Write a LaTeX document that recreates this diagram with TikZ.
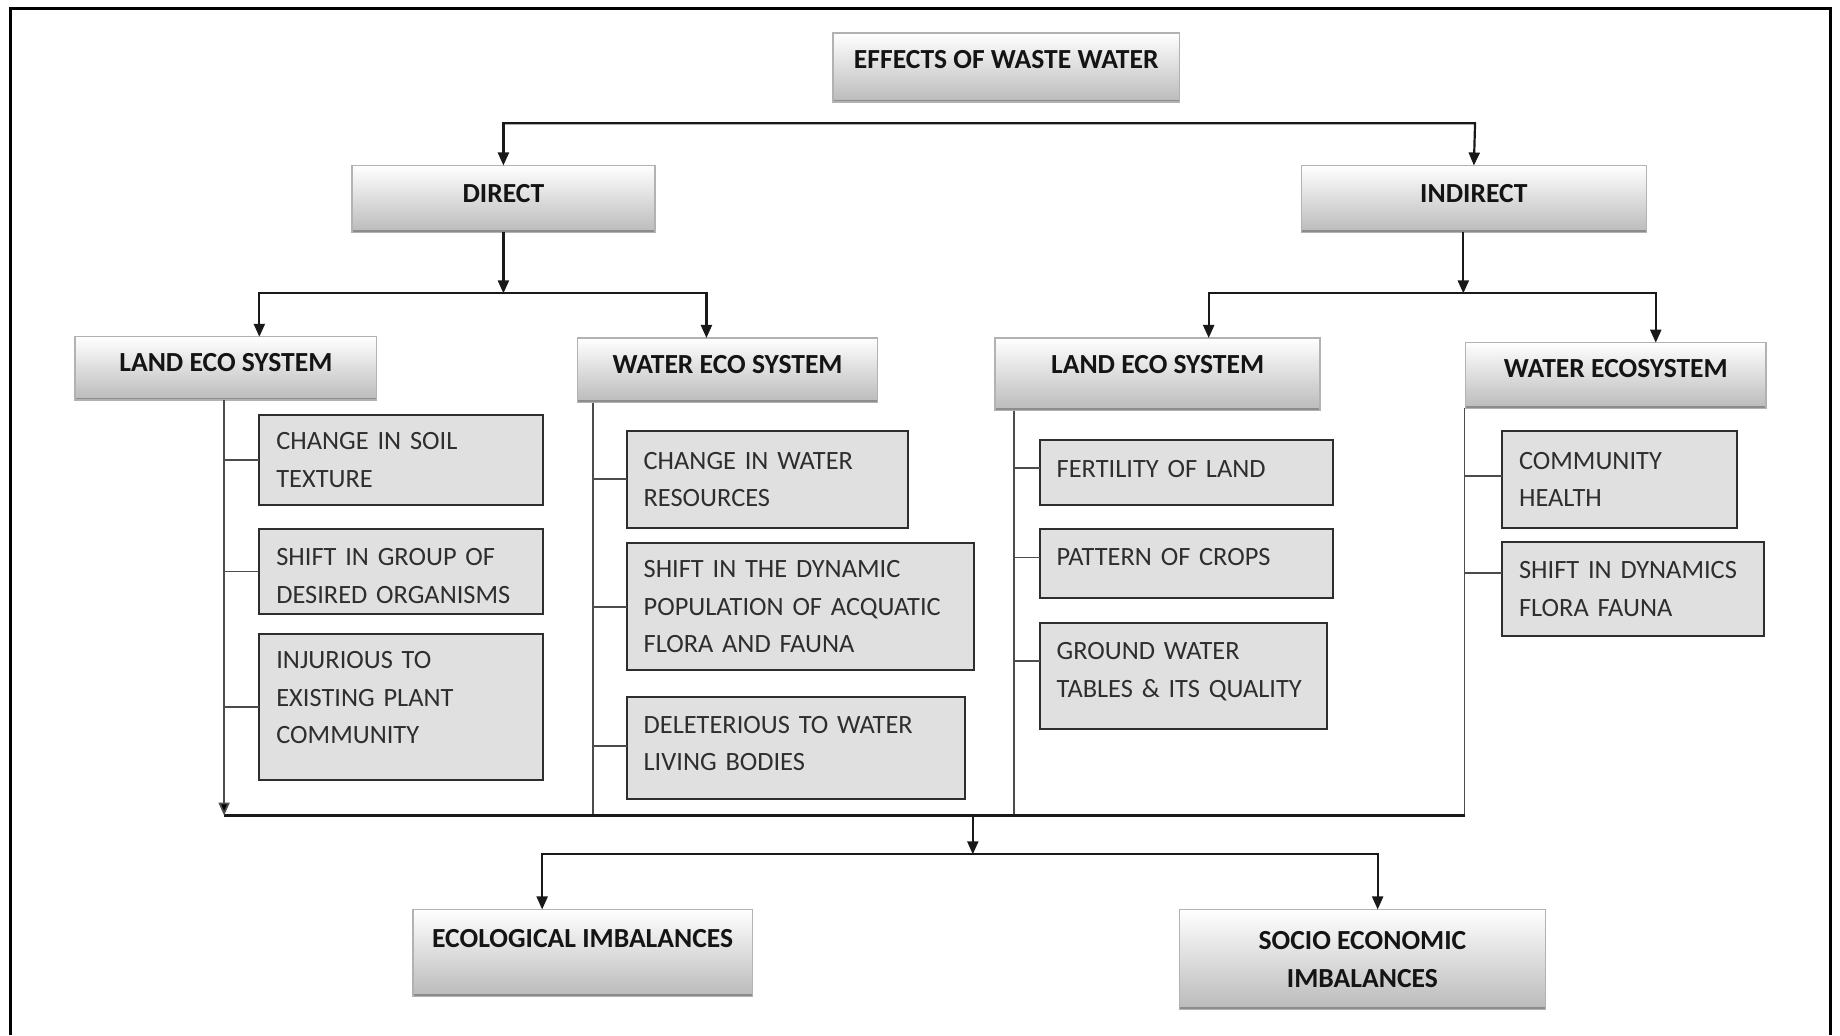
\documentclass[tikz,border=0pt]{standalone}
\usepackage{fontspec}
\setmainfont{Carlito}
\usetikzlibrary{arrows.meta,calc}

% one unit = one pixel of a 1568 x 882 grid
\newcommand\unitpt{0.5867}

% shaded heading box: name, x1, y1, x2, y2, extra options, text
\newcommand\hdrbox[7]{%
  \pgfmathsetmacro\hbw{(#4-#2)*\unitpt}%
  \pgfmathsetmacro\hbh{(#5-#3)*\unitpt}%
  \node[hdrsty, minimum width=\hbw pt, minimum height=\hbh pt, #6]
    (#1) at ({(#2+#4)/2},{(#3+#5)/2}) {#7};}

% grey item box with left-aligned text: name, x1, y1, x2, y2, extra options, text
\newcommand\itembox[7]{%
  \pgfmathsetmacro\ibw{(#4-#2)*\unitpt}%
  \pgfmathsetmacro\ibh{(#5-#3)*\unitpt}%
  \pgfmathsetmacro\ibt{(#4-#2)*\unitpt-17}%
  \node[itemsty, minimum width=\ibw pt, minimum height=\ibh pt, text width=\ibt pt, #6]
    (#1) at ({(#2+#4)/2},{(#3+#5)/2}) {#7};}

% short branch from a vertical spine to an item box
\newcommand\branch[3]{%
  \coordinate (t-#1) at ([yshift=#3]#1.west);
  \draw[spinesty] (t-#1) -- (t-#1 -| #2);}

\tikzset{
  hdrsty/.style={rectangle, outer sep=0pt, inner sep=2pt,
    top color=white, bottom color=black!27, draw=black!30, line width=0.7pt,
    font=\fontsize{13.8}{19}\selectfont\bfseries, text=black!92,
    path picture={\draw[black!45, line width=2.4pt]
      (path picture bounding box.south west) -- (path picture bounding box.south east);}},
  itemsty/.style={rectangle, outer sep=0pt, inner xsep=8.5pt, inner ysep=2pt,
    fill=black!12, draw=black!82, line width=1pt, align=left,
    font=\fontsize{13.2}{18.8}\selectfont, text=black!82},
  linksty/.style={draw=black!90, line width=1.1pt},
  arrsty/.style={linksty, -{Triangle[length=6.5pt, width=5.5pt]}},
  spinesty/.style={draw=black!70, line width=0.9pt},
  framesty/.style={draw=black, line width=1.3pt}
}

\begin{document}
\begin{tikzpicture}[x=0.5867pt, y=-0.5867pt]
  \useasboundingbox (0,0) rectangle (1568,882);

  % outer frame
  \draw[framesty] (9,882) -- (9,7) -- (1560,7) -- (1560,882);

  % headings
  \hdrbox{top}{710}{28}{1005}{87}{text height=8.9pt, text depth=7.6pt}{EFFECTS OF WASTE WATER}
  \hdrbox{direct}{300}{141}{558}{198}{text height=8.9pt, text depth=5.3pt}{DIRECT}
  \hdrbox{indirect}{1109}{141}{1403}{198}{text height=8.9pt, text depth=5.3pt}{INDIRECT}
  \hdrbox{landL}{64}{287}{321}{341}{text height=8.9pt, text depth=5.9pt}{LAND ECO SYSTEM}
  \hdrbox{waterL}{492}{288}{748}{343}{text height=8.9pt, text depth=5.3pt}{WATER ECO SYSTEM}
  \hdrbox{landR}{848}{288}{1125}{350}{text height=8.9pt, text depth=9.4pt}{LAND ECO SYSTEM}
  \hdrbox{waterR}{1249}{292}{1505}{348}{text height=8.9pt, text depth=7pt}{WATER ECOSYSTEM}
  \hdrbox{eco}{352}{775}{641}{849}{text height=8.9pt, text depth=14pt}{ECOLOGICAL IMBALANCES}
  \hdrbox{socio}{1005}{775}{1317}{860}{align=center}{SOCIO ECONOMIC\\IMBALANCES}

  % items under the direct land eco system
  \itembox{L1}{221}{354}{463}{430}{}{CHANGE IN SOIL\\TEXTURE}
  \itembox{L2}{221}{451}{463}{523}{text depth=14.1pt}{SHIFT IN GROUP OF\\DESIRED ORGANISMS}
  \itembox{L3}{221}{540}{463}{665}{text depth=47pt}{INJURIOUS TO\\EXISTING PLANT\\COMMUNITY}
  % items under the direct water eco system
  \itembox{W1}{534}{367}{774}{450}{}{CHANGE IN WATER\\RESOURCES}
  \itembox{W2}{534}{463}{830}{571}{}{SHIFT IN THE DYNAMIC\\POPULATION OF ACQUATIC\\FLORA AND FAUNA}
  \itembox{W3}{534}{594}{822}{681}{text depth=23.5pt}{DELETERIOUS TO WATER\\LIVING BODIES}
  % items under the indirect land eco system
  \itembox{R1}{886}{375}{1136}{430}{text height=8pt, text depth=3pt}{FERTILITY OF LAND}
  \itembox{R2}{886}{451}{1136}{510}{text height=8pt, text depth=6pt}{PATTERN OF CROPS}
  \itembox{R3}{886}{531}{1131}{621}{text depth=24.6pt}{GROUND WATER\\TABLES \& ITS QUALITY}
  % items under the indirect water ecosystem
  \itembox{S1}{1280}{367}{1480}{450}{}{COMMUNITY\\HEALTH}
  \itembox{S2}{1280}{462}{1503}{542}{}{SHIFT IN DYNAMICS\\FLORA FAUNA}

  % split points
  \coordinate (tl) at (429,105);
  \coordinate (tr) at (1257,105);
  \coordinate (dl) at (221,250);
  \coordinate (dr) at (602,250);
  \coordinate (dm) at (429,250);
  \coordinate (il) at (1030,250);
  \coordinate (ir) at (1411,250);
  \coordinate (im) at (1247,250);
  \coordinate (b1) at (191,695);
  \coordinate (b2) at (505,695);
  \coordinate (b3) at (864,695);
  \coordinate (b4) at (1248,695);
  \coordinate (bm) at (829,695);
  \coordinate (ml) at (462,728);
  \coordinate (mr) at (1174,728);

  % first level
  \draw[arrsty] (tr) -- (tl) -- (direct.north);
  \draw[arrsty] (tl) -- (tr) -- (indirect.north);

  % direct branch
  \draw[arrsty] (direct.south) -- (dm);
  \draw[arrsty] (dr) -- (dl) -- (dl |- landL.north);
  \draw[arrsty] (dl) -- (dr) -- (dr |- waterL.north);

  % indirect branch
  \draw[arrsty] (im |- indirect.south) -- (im);
  \draw[arrsty] (ir) -- (il) -- (il |- landR.north);
  \draw[arrsty] (il) -- (ir) -- (ir |- waterR.north);

  % spines of the four item columns and the collecting line
  \draw[spinesty] (b2 |- waterL.south) -- (b2);
  \draw[spinesty] (b3 |- landR.south) -- (b3);
  \draw[spinesty] (b4 |- waterR.south) -- (b4);
  \draw[linksty] (b4) -- (b1);
  \draw[spinesty, -{Triangle[length=6.5pt, width=5.5pt, fill=black]}] (b1 |- landL.south) -- (b1);

  \branch{L1}{b1}{0pt}
  \branch{L2}{b1}{0pt}
  \branch{L3}{b1}{0pt}
  \branch{W1}{b2}{0pt}
  \branch{W2}{b2}{0pt}
  \branch{W3}{b2}{0.9pt}
  \branch{R1}{b3}{2pt}
  \branch{R2}{b3}{3.2pt}
  \branch{R3}{b3}{7.6pt}
  \branch{S1}{b4}{1.5pt}
  \branch{S2}{b4}{8.2pt}

  % outcomes
  \draw[arrsty] (bm) -- (bm |- ml);
  \draw[arrsty] (mr) -- (ml) -- (ml |- eco.north);
  \draw[arrsty] (ml) -- (mr) -- (mr |- socio.north);
\end{tikzpicture}
\end{document}
